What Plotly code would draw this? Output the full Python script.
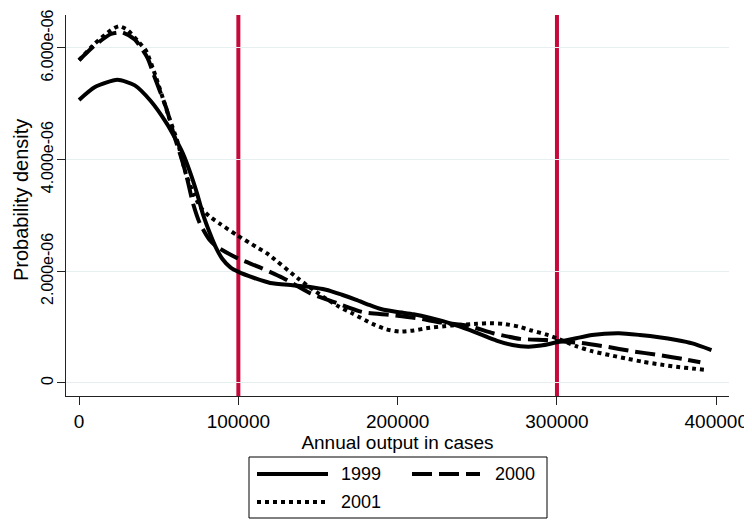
import plotly.graph_objects as go

# ---------------- data (x in cases, density in 1e-6 units) ----------------
x_1999 = [0, 10000, 24000, 35000, 45000, 55000, 60000, 65000, 70000, 74000, 78000, 82000,
          86000, 90000, 95000, 100000, 110000, 120000, 134000, 145000, 155000, 165000,
          174000, 182000, 190000, 200000, 210000, 220000, 234000, 245000, 253000, 262000,
          272000, 282000, 290000, 300000, 312000, 322000, 339000, 352000, 364000, 375000,
          385000, 397000]
y_1999 = [5.07, 5.30, 5.43, 5.33, 5.05, 4.65, 4.40, 4.12, 3.75, 3.40, 3.00, 2.69,
          2.42, 2.22, 2.07, 1.99, 1.88, 1.79, 1.75, 1.72, 1.67, 1.58,
          1.49, 1.40, 1.32, 1.27, 1.23, 1.17, 1.06, 0.95, 0.86, 0.76,
          0.68, 0.65, 0.67, 0.73, 0.80, 0.86, 0.89, 0.86, 0.82, 0.77,
          0.71, 0.59]

x_2000 = [0, 10000, 20000, 27000, 35000, 43000, 47000, 55000, 60000, 64000, 67600, 71500,
          75800, 82000, 86500, 99000, 113500, 128000, 145000, 162000, 178000, 195000,
          212000, 228000, 245000, 260000, 277000, 293000, 300000, 314000, 331000, 347000,
          364000, 381000, 390000]
y_2000 = [5.78, 6.05, 6.25, 6.28, 6.15, 5.82, 5.51, 4.90, 4.40, 4.05, 3.69, 3.22,
          2.86, 2.56, 2.44, 2.24, 2.07, 1.88, 1.61, 1.43, 1.27, 1.22,
          1.16, 1.08, 1.02, 0.89, 0.79, 0.77, 0.75, 0.72, 0.65, 0.57,
          0.50, 0.42, 0.37]

x_2001 = [0, 10000, 20000, 25000, 30000, 37000, 42000, 48000, 56000, 62000, 67000, 72000,
          77000, 82000, 88000, 99000, 111000, 118000, 138000, 147000, 155000,
          163000, 172000, 184000, 193000, 201000, 210000, 218000, 234000, 250000, 258000,
          266000, 276000, 284000, 293000, 300000, 312000, 322000, 333000, 343000, 354000,
          365000, 375000, 385000, 394000]
y_2001 = [5.78, 6.08, 6.32, 6.39, 6.33, 6.12, 5.95, 5.50, 4.80, 4.30, 3.75, 3.38,
          3.12, 2.98, 2.86, 2.65, 2.44, 2.32, 1.86, 1.67, 1.51,
          1.37, 1.24, 1.06, 0.96, 0.92, 0.94, 0.98, 1.03, 1.06, 1.07,
          1.06, 1.01, 0.94, 0.87, 0.80, 0.66, 0.57, 0.50, 0.44, 0.38,
          0.33, 0.29, 0.26, 0.23]

series_names = ["1999", "2000", "2001"]
x_lines = [100000, 300000]

x_tickvals = [0, 100000, 200000, 300000, 400000]
x_ticktext = ["0", "100000", "200000", "300000", "400000"]
y_tickvals = [0, 2e-6, 4e-6, 6e-6]
y_ticktext = ["0", "2.000e-06", "4.000e-06", "6.000e-06"]

# ---------------- styles ----------------
FONT = "Liberation Sans, Arial, Helvetica, sans-serif"
RED = "#c5093b"
GRID = "#e6eef0"
styles = {
    "1999": dict(color="black", width=4, dash="solid"),
    "2000": dict(color="black", width=4, dash="20px,7px"),
    "2001": dict(color="black", width=4, dash="4px,4px"),
}

scale = 1e-6
data = {
    "1999": (x_1999, [v * scale for v in y_1999]),
    "2000": (x_2000, [v * scale for v in y_2000]),
    "2001": (x_2001, [v * scale for v in y_2001]),
}

fig = go.Figure()
for name in series_names:
    xs, ys = data[name]
    fig.add_trace(go.Scatter(x=xs, y=ys, mode="lines", name=name,
                             line=dict(shape="spline", smoothing=0.6, **styles[name]),
                             showlegend=False, hoverinfo="skip"))

# vertical reference lines
for xv in x_lines:
    fig.add_shape(type="line", xref="x", yref="paper", x0=xv, x1=xv, y0=0, y1=1,
                  line=dict(color=RED, width=4), layer="between")

# ---------------- geometry (page pixels; body has an 8px margin) ----------------
OFF = 8
W, H = 752 - OFF, 521 - OFF
PLOT_L, PLOT_R, PLOT_T, PLOT_B = 66, 729, 15, 396   # page coordinates of plot area
L, T = PLOT_L - OFF, PLOT_T - OFF
R, B = W + OFF - PLOT_R, H + OFF - PLOT_B
PW, PH = PLOT_R - PLOT_L, PLOT_B - PLOT_T


def px(xp):
    return (xp - PLOT_L) / PW


def py(yp):
    return (PLOT_B - yp) / PH


# ---------------- legend (manual box) ----------------
fig.add_shape(type="rect", xref="paper", yref="paper",
              x0=px(249), x1=px(547), y0=py(518), y1=py(457),
              line=dict(color="black", width=1), fillcolor="white")
legend_items = [
    ("1999", 257, 328, 339, 474),
    ("2000", 412, 480, 493, 474),
    ("2001", 257, 328, 339, 502),
]
for name, sx0, sx1, tx, ty in legend_items:
    st = styles[name]
    fig.add_shape(type="line", xref="paper", yref="paper",
                  x0=px(sx0), x1=px(sx1), y0=py(ty), y1=py(ty),
                  line=dict(color=st["color"], width=st["width"], dash=st["dash"]))
    fig.add_annotation(xref="paper", yref="paper", x=px(tx), y=py(ty), text=name,
                       showarrow=False, xanchor="left", yanchor="middle",
                       font=dict(family=FONT, size=18, color="black"))

# y-axis title
fig.add_annotation(xref="paper", yref="paper", x=px(21), y=py(200),
                   text="Probability density", textangle=-90, showarrow=False,
                   xanchor="center", yanchor="middle",
                   font=dict(family=FONT, size=20, color="black"))

fig.update_layout(
    width=W, height=H,
    margin=dict(l=L, r=R, t=T, b=B, pad=0),
    plot_bgcolor="white", paper_bgcolor="white",
    font=dict(family=FONT, size=19, color="black"),
    showlegend=False,
    xaxis=dict(range=[-8200, 408000], tickvals=x_tickvals, ticktext=x_ticktext,
               ticks="outside", ticklen=8, tickwidth=1.2, tickcolor="#222",
               ticklabeloverflow="allow",
               showline=True, linecolor="#222", linewidth=1.2,
               showgrid=False, zeroline=False, automargin=False,
               title=dict(text="Annual output in cases", standoff=0,
                          font=dict(family=FONT, size=19))),
    yaxis=dict(range=[-0.233e-6, 6.59e-6], tickvals=y_tickvals, ticktext=y_ticktext,
               tickangle=-90, ticks="outside", ticklen=8, tickwidth=1.2, tickcolor="#222",
               tickfont=dict(family=FONT, size=16, color="black"),
               ticklabelstandoff=-2, ticklabeloverflow="allow",
               showline=True, linecolor="#222", linewidth=1.2,
               showgrid=True, gridcolor=GRID, gridwidth=1,
               zeroline=False, automargin=False),
)

fig.write_html("out.html")
